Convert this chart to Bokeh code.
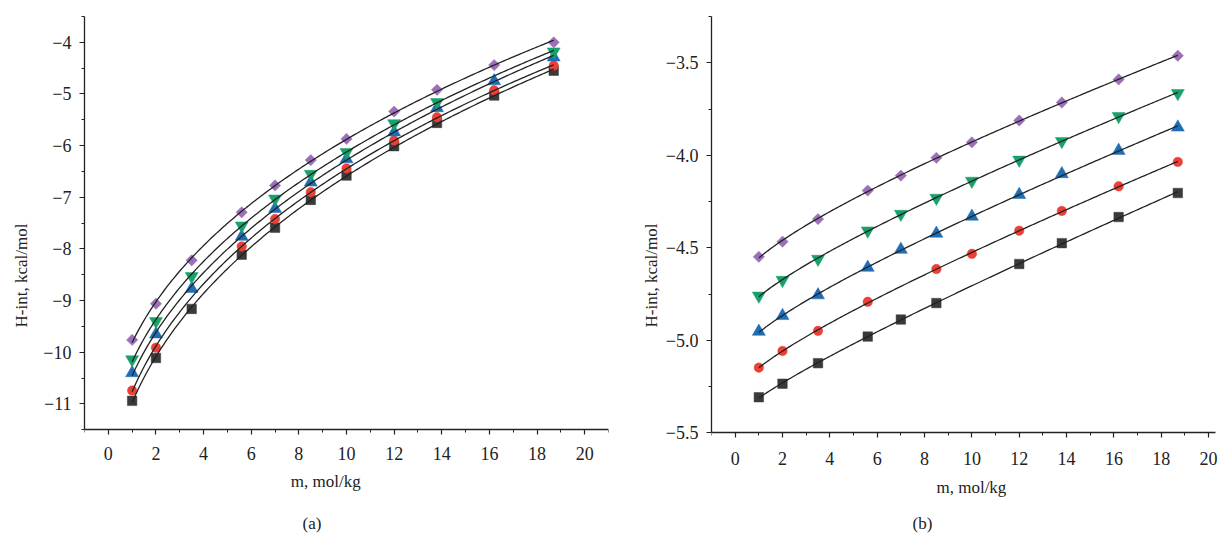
import numpy as np
from bokeh.plotting import figure
from bokeh.layouts import row
from bokeh.models import FixedTicker, Range1d, Label
from bokeh.embed import file_html
from bokeh.resources import INLINE

nan = np.nan

# molality values (x)
m = [1, 2, 3.5, 5.6, 7, 8.5, 10, 12, 13.8, 16.2, 18.7]

# panel (a)
a_purple = [-9.76, -9.06, -8.22, -7.29, -6.77, -6.28, -5.87, -5.34, -4.92, -4.44, -4.00]
a_green = [-10.14, -9.40, -8.53, -7.55, -7.03, -6.55, -6.13, -5.57, -5.16, nan, -4.18]
a_blue = [-10.40, -9.65, -8.77, -7.76, -7.22, -6.71, -6.26, -5.74, -5.27, -4.75, -4.29]
a_red = [-10.74, -9.91, nan, -7.95, -7.42, -6.90, -6.44, -5.90, -5.45, -4.93, -4.45]
a_black = [-10.94, -10.11, -9.16, -8.11, -7.59, -7.05, -6.58, -6.01, -5.56, -5.03, -4.55]

# panel (b)
b_purple = [-4.549, -4.467, -4.345, -4.191, -4.110, -4.014, -3.930, -3.812, -3.715, -3.590, -3.462]
b_green = [-4.760, -4.675, -4.561, -4.408, -4.318, -4.231, -4.139, -4.025, -3.924, -3.789, -3.665]
b_blue = [-4.953, -4.868, -4.756, -4.607, -4.510, -4.423, -4.331, -4.213, -4.101, -3.975, -3.849]
b_red = [-5.148, -5.058, -4.949, -4.792, nan, -4.615, -4.533, -4.408, -4.301, -4.168, -4.036]
b_black = [-5.308, -5.235, -5.124, -4.980, -4.888, -4.799, nan, -4.588, -4.475, -4.334, -4.204]

x_ticks = [0, 2, 4, 6, 8, 10, 12, 14, 16, 18, 20]
a_yticks = [-11, -10, -9, -8, -7, -6, -5, -4]
b_yticks = [-5.5, -5.0, -4.5, -4.0, -3.5]

FONT = "Liberation Serif"
INK = "#222222"
C_BLACK = "#3a3a3a"
C_RED = "#ea4036"
C_BLUE = "#1f6db5"
C_GREEN = "#17a16b"
C_PURPLE = "#9b70b8"


def fit_curve(x, y):
    x = np.asarray(x, float)
    y = np.asarray(y, float)
    ok = ~np.isnan(y)
    coef = np.polyfit(np.sqrt(x[ok]), y[ok], 2)
    xs = np.linspace(x[ok].min(), x[ok].max(), 200)
    return xs, np.polyval(coef, np.sqrt(xs))


def style_axes(p, xbounds, ybounds, yticks, yminor, ylabels, ylab_standoff, xstandoff):
    p.xaxis.ticker = FixedTicker(ticks=x_ticks, minor_ticks=list(range(-1, 22, 2)))
    p.yaxis.ticker = FixedTicker(ticks=yticks, minor_ticks=yminor)
    p.yaxis.major_label_overrides = ylabels
    p.xaxis.major_label_overrides = {t: str(t) for t in x_ticks}
    p.xaxis.fixed_location = ybounds[0]
    p.xaxis.bounds = xbounds
    p.yaxis.bounds = ybounds
    for ax in (p.xaxis, p.yaxis):
        ax.axis_line_color = INK
        ax.axis_line_width = 1.3
        ax.major_tick_line_color = INK
        ax.minor_tick_line_color = INK
        ax.major_tick_line_width = 1.2
        ax.minor_tick_line_width = 1.0
        ax.major_tick_out = 5
        ax.major_tick_in = 0
        ax.minor_tick_out = 3
        ax.minor_tick_in = 0
        ax.major_label_text_font = FONT
        ax.major_label_text_font_size = "18px"
        ax.major_label_text_color = INK
        ax.axis_label_text_font = FONT
        ax.axis_label_text_font_size = "17px"
        ax.axis_label_text_font_style = "normal"
        ax.axis_label_text_color = INK
    p.yaxis.major_label_standoff = 8
    p.xaxis.major_label_standoff = xstandoff
    p.yaxis.axis_label = "H-int, kcal/mol"
    p.yaxis.axis_label_standoff = ylab_standoff
    p.xgrid.visible = False
    p.ygrid.visible = False
    p.outline_line_color = None


def draw_series(p, ys_list):
    specs = [
        ("square", C_BLACK, 9.5, 0),
        ("circle", C_RED, 9.5, 0),
        ("triangle", C_BLUE, 13, 0),
        ("inverted_triangle", C_GREEN, 13, 0),
        ("square", C_PURPLE, 8, np.pi / 4),
    ]
    for ys, (mk, col, sz, ang) in zip(ys_list, specs):
        p.scatter(m, ys, marker=mk, size=sz, angle=ang, fill_color=col, line_color=col,
                  line_width=0.5)
    for ys in ys_list:
        xs, yf = fit_curve(m, ys)
        p.line(xs, yf, line_color=INK, line_width=1.3)


def text_label(p, x, y, text):
    p.add_layout(Label(x=x, y=y, text=text, text_font=FONT, text_font_size="17px",
                       text_color=INK, text_align="center", text_baseline="middle"))


# ---------- panel (a) ----------
pa = figure(width=615, height=534, output_backend="svg", toolbar_location=None,
            x_range=Range1d(-1, 21), y_range=Range1d(-13.527, -3.5),
            min_border_left=84, min_border_right=7, min_border_top=16, min_border_bottom=0)
style_axes(pa, (-1, 21), (-11.5, -3.5), a_yticks, [-11.5 + i for i in range(9)],
           {t: "\u2212" + str(abs(t)) for t in a_yticks}, 9, 12)
draw_series(pa, [a_black, a_red, a_blue, a_green, a_purple])
text_label(pa, 9.13, -12.505, "m, mol/kg")
text_label(pa, 8.55, -13.318, "(a)")

# ---------- panel (b) ----------
pb = figure(width=608, height=534, output_backend="svg", toolbar_location=None,
            x_range=Range1d(-1, 20.63), y_range=Range1d(-6.05, -3.25),
            min_border_left=96, min_border_right=0, min_border_top=16, min_border_bottom=0)
style_axes(pb, (-1, 20.3), (-5.5, -3.25), b_yticks, [-5.25, -4.75, -4.25, -3.75, -3.25],
           {t: "\u2212" + ("%.1f" % abs(t)) for t in b_yticks}, 2, 14)
draw_series(pb, [b_black, b_red, b_blue, b_green, b_purple])
text_label(pb, 9.98, -5.796, "m, mol/kg")
text_label(pb, 7.91, -5.99, "(b)")

layout = row(pa, pb)
open("out.html", "w").write(file_html(layout, INLINE))
